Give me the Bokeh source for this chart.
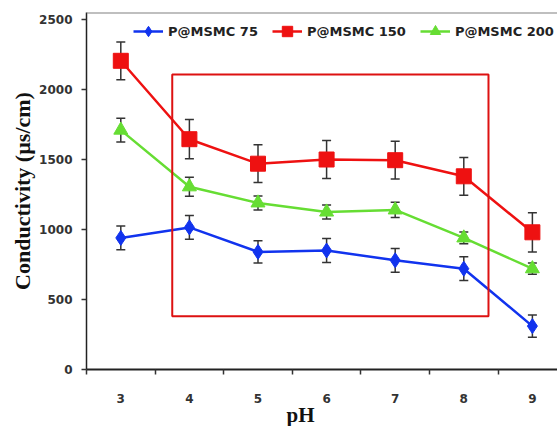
from bokeh.plotting import figure
from bokeh.models import (ColumnDataSource, Whisker, TeeHead, FixedTicker, BoxAnnotation,
                          Span, Title, Legend, LegendItem)
from bokeh.embed import file_html
from bokeh.resources import INLINE

# ---- data ----
ph = [3, 4, 5, 6, 7, 8, 9]
series_names = ["P@MSMC 75", "P@MSMC 150", "P@MSMC 200"]
c75 = [940, 1015, 840, 850, 780, 720, 310]
e75 = [85, 85, 80, 85, 85, 85, 80]
c150 = [2205, 1645, 1470, 1500, 1495, 1380, 980]
e150 = [135, 140, 135, 135, 135, 135, 140]
c200 = [1710, 1305, 1190, 1125, 1140, 940, 720]
e200 = [85, 68, 50, 50, 55, 42, 40]
y_ticks = [0, 500, 1000, 1500, 2000, 2500]
x_ticks = ph
x_bounds = [2.5, 3.5, 4.5, 5.5, 6.5, 7.5, 8.5]
# highlighted region (pH, conductivity)
box_left, box_right, box_bottom, box_top = 3.75, 8.36, 380, 2107

p = figure(width=557, height=426, output_backend="svg", toolbar_location=None,
           x_range=(2.5, 9.366), y_range=(0, 2550),
           min_border_left=86, min_border_right=0, min_border_top=12, min_border_bottom=57)
p.background_fill_color = "white"
p.border_fill_color = "white"
p.outline_line_color = None
p.xgrid.visible = False
p.ygrid.visible = False

tick_font = "DejaVu Sans"
# x axis
p.xaxis.ticker = FixedTicker(ticks=x_ticks, minor_ticks=x_bounds)
p.xaxis.major_tick_line_color = None
p.xaxis.major_tick_out = 0
p.xaxis.major_tick_in = 0
p.xaxis.minor_tick_out = 5
p.xaxis.minor_tick_in = 0
p.xaxis.minor_tick_line_color = "#333333"
p.xaxis.minor_tick_line_width = 1.5
p.xaxis.axis_line_color = "#222222"
p.xaxis.axis_line_width = 2
p.xaxis.major_label_standoff = 19
p.xaxis.major_label_text_font = tick_font
p.xaxis.major_label_text_font_style = "bold"
p.xaxis.major_label_text_font_size = "12px"
p.xaxis.major_label_text_color = "#333333"

# y axis
p.yaxis.ticker = FixedTicker(ticks=y_ticks)
p.yaxis.minor_tick_line_color = None
p.yaxis.major_tick_out = 5
p.yaxis.major_tick_in = 0
p.yaxis.major_tick_line_color = "#333333"
p.yaxis.major_tick_line_width = 1.5
p.yaxis.axis_line_color = "#222222"
p.yaxis.axis_line_width = 1.5
p.yaxis.major_label_standoff = 9
p.yaxis.major_label_text_font = tick_font
p.yaxis.major_label_text_font_style = "bold"
p.yaxis.major_label_text_font_size = "12px"
p.yaxis.major_label_text_color = "#333333"
p.yaxis.axis_label = "Conductivity (µs/cm)"
p.yaxis.axis_label_text_font = "Liberation Serif"
p.yaxis.axis_label_text_font_style = "bold"
p.yaxis.axis_label_text_font_size = "22px"
p.yaxis.axis_label_text_color = "#111111"
p.yaxis.axis_label_standoff = 1

# top border of frame
p.add_layout(Span(location=2550, dimension="width", line_color="#808080", line_width=2))

colors = ["#1133ee", "#ee1111", "#66dd33"]
values = [c75, c150, c200]
errors = [e75, e150, e200]
markers = ["diamond", "square", "triangle"]
sizes = [15, 15, 14]

items = []
for name, col, vals, errs, mk, sz in zip(series_names, colors, values, errors, markers, sizes):
    src = ColumnDataSource(dict(x=ph, y=vals,
                                upper=[v + e for v, e in zip(vals, errs)],
                                lower=[v - e for v, e in zip(vals, errs)]))
    w = Whisker(source=src, base="x", upper="upper", lower="lower",
                line_color="#333333", line_width=1.5,
                upper_head=TeeHead(size=9, line_color="#333333", line_width=1.5),
                lower_head=TeeHead(size=9, line_color="#333333", line_width=1.5))
    p.add_layout(w)
    r1 = p.line("x", "y", source=src, line_color=col, line_width=2.5)
    r2 = p.scatter("x", "y", source=src, marker=mk, size=sz, fill_color=col, line_color=col)
    items.append(LegendItem(label=name, renderers=[r1, r2]))

legend = Legend(items=items, orientation="horizontal", location=(47, 325),
                glyph_width=30, glyph_height=26, label_standoff=5, spacing=14,
                padding=0, margin=0, border_line_color=None, background_fill_alpha=0,
                label_text_font=tick_font, label_text_font_style="bold",
                label_text_font_size="13px", label_text_color="#222222")
p.add_layout(legend)

p.add_layout(BoxAnnotation(left=box_left, right=box_right, bottom=box_bottom, top=box_top,
                           fill_alpha=0, line_color="#dd1111", line_alpha=1, line_width=2))

p.add_layout(Title(text="pH", align="left", offset=200, standoff=-6, vertical_align="top",
                   text_font="Liberation Serif", text_font_style="bold",
                   text_font_size="21px", text_color="#111111"), "below")

open("out.html", "w").write(file_html(p, INLINE))
